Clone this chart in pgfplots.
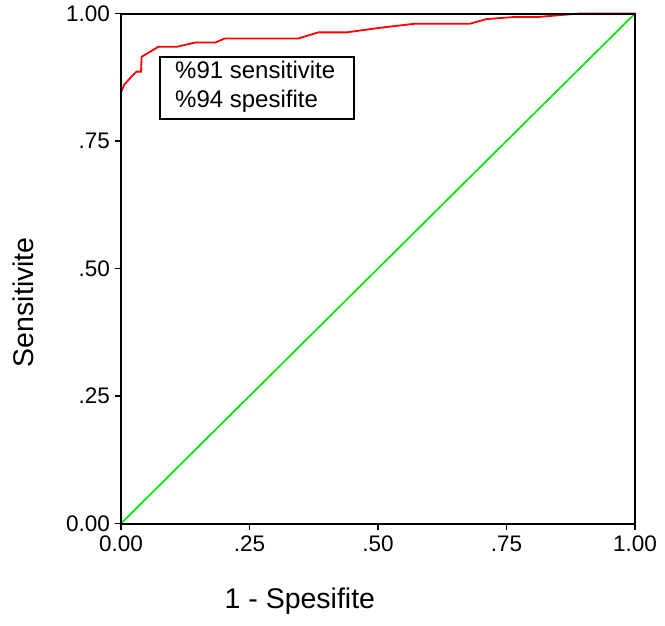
\documentclass[border=0pt]{standalone}
\usepackage{fontspec}
\setmainfont{Liberation Sans}
\usepackage{pgfplots}
\pgfplotsset{compat=1.18}

\definecolor{roc}{RGB}{255,0,0}
\definecolor{ref}{RGB}{0,230,0}

\begin{document}
\begin{tikzpicture}
\useasboundingbox (-121pt,-101.5pt) rectangle (544pt,523.5pt);
\begin{axis}[
    at={(0pt,0pt)}, anchor=south west,
    scale only axis,
    width=514pt, height=510pt,
    xmin=0, xmax=1, ymin=0, ymax=1,
    axis line style={line width=2pt},
    xtick={0,0.25,0.5,0.75,1},
    ytick={0,0.25,0.5,0.75,1},
    xticklabels={0.00,.25,.50,.75,1.00},
    yticklabels={0.00,.25,.50,.75,1.00},
    xtick pos=bottom, ytick pos=left,
    tick align=outside,
    major tick length=6pt,
    tick style={line width=1.2pt, black},
    tick label style={font=\fontsize{22.5}{26}\selectfont},
    xticklabel style={yshift=-3pt},
    yticklabel style={xshift=-1.5pt},
    xlabel={1 - Spesifite},
    ylabel={Sensitivite},
    label style={font=\fontsize{28.5}{32}\selectfont},
    xlabel style={at={(axis description cs:0.348,-0.152)}, anchor=center},
    ylabel style={at={(axis description cs:-0.1907,0.434)}, anchor=center, rotate=0},
    axis on top,
    clip=false,
]
% reference diagonal
\addplot[ref, line width=1.7pt] coordinates {(0,0) (1,1)};
% ROC curve
\addplot[roc, line width=1.8pt] coordinates {
    (0,0) (0,0.845) (0.006,0.860) (0.0175,0.873) (0.030,0.886) (0.039,0.886)
    (0.040,0.915) (0.073,0.935) (0.110,0.935) (0.144,0.943) (0.183,0.943)
    (0.202,0.951) (0.345,0.951) (0.384,0.963) (0.439,0.963) (0.504,0.972)
    (0.572,0.980) (0.679,0.980) (0.711,0.989) (0.763,0.993) (0.809,0.993)
    (0.893,1.000) (1,1)
};
\node[draw, line width=2pt, fill=white, anchor=north west, inner sep=0pt,
      minimum width=194pt, minimum height=62pt]
    at (axis cs:0.0745,0.9167) {};
\node[anchor=west, inner sep=0pt, align=left,
      font=\fontsize{24}{29}\selectfont]
    at (axis cs:0.1051,0.8565) {\%91 sensitivite\\\%94 spesifite};
\end{axis}
\end{tikzpicture}
\end{document}
